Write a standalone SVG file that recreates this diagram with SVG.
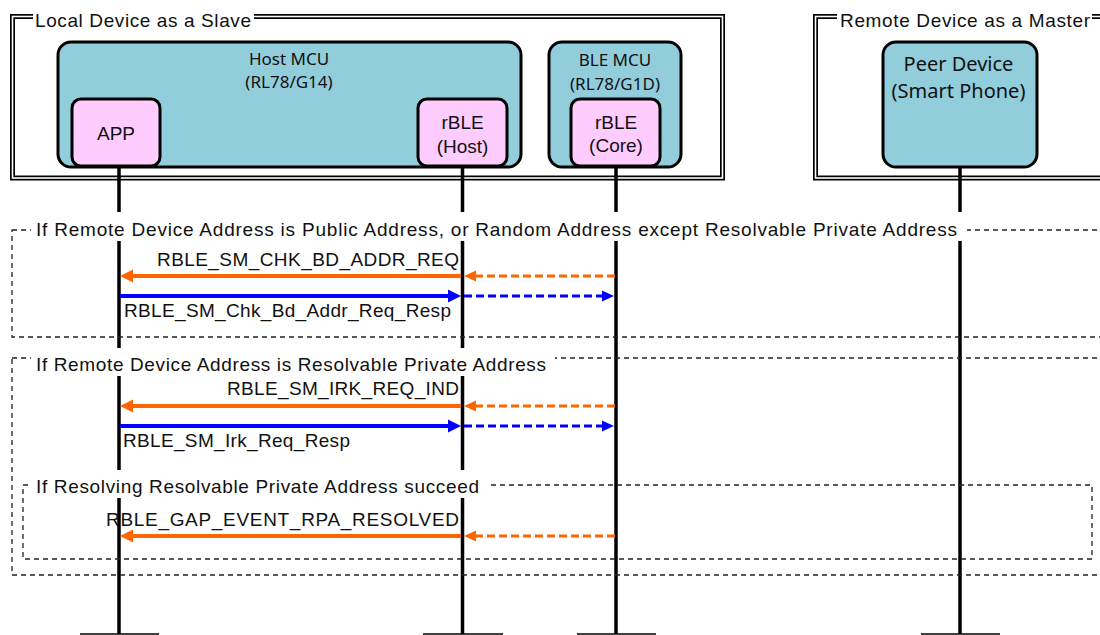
<svg xmlns="http://www.w3.org/2000/svg" width="1100" height="635" viewBox="0 0 1100 635">
<style>
.fo{fill:none;stroke:#000;stroke-width:5}
.fi{fill:none;stroke:#fff;stroke-width:1.6}
.mcu{fill:#92CDDC;stroke:#000;stroke-width:3}
.sw{fill:#FFCCFF;stroke:#000;stroke-width:3}
.life{stroke:#000;stroke-width:3.5}
.foot{stroke:#000;stroke-width:1.5}
.frag{fill:none;stroke:#222;stroke-width:1.3;stroke-dasharray:5 4}
.gap{fill:#fff}
.t{font-family:"Liberation Sans",Arial,sans-serif;font-size:19px;fill:#111}
.c{font-family:"Noto Sans","Open Sans",sans-serif;fill:#111;text-anchor:middle}
.mid{text-anchor:middle}
.or{stroke:#FF6600;stroke-width:4;fill:none;marker-end:url(#ahO)}
.ord{stroke:#FF6600;stroke-width:3;fill:none;stroke-dasharray:8 4;marker-end:url(#ahOd)}
.bl{stroke:#0000FF;stroke-width:4;fill:none;marker-end:url(#ahB)}
.bld{stroke:#0000FF;stroke-width:3;fill:none;stroke-dasharray:8 4;marker-end:url(#ahBd)}
</style>
<defs>
<marker id="ahO" markerUnits="userSpaceOnUse" markerWidth="14" markerHeight="13" refX="0" refY="6.5" orient="auto" overflow="visible"><path d="M0,0 L13,6.5 L0,13 z" fill="#FF6600"/></marker>
<marker id="ahOd" markerUnits="userSpaceOnUse" markerWidth="13" markerHeight="11" refX="0" refY="5.5" orient="auto" overflow="visible"><path d="M0,0 L12,5.5 L0,11 z" fill="#FF6600"/></marker>
<marker id="ahB" markerUnits="userSpaceOnUse" markerWidth="14" markerHeight="13" refX="0" refY="6.5" orient="auto" overflow="visible"><path d="M0,0 L13,6.5 L0,13 z" fill="#0000FF"/></marker>
<marker id="ahBd" markerUnits="userSpaceOnUse" markerWidth="13" markerHeight="11" refX="0" refY="5.5" orient="auto" overflow="visible"><path d="M0,0 L12,5.5 L0,11 z" fill="#0000FF"/></marker>
</defs>
<rect width="1100" height="635" fill="#fff"/>

<g id="local-device">
<rect class="fo" x="12.5" y="16.5" width="710" height="161.5"/>
<rect class="fi" x="12.5" y="16.5" width="710" height="161.5"/>
<rect class="gap" x="33" y="6" width="221" height="18"/>
<text class="t" x="35" y="27" textLength="216" lengthAdjust="spacing">Local Device as a Slave</text>
</g>
<g id="remote-device">
<rect class="fo" x="815.5" y="16.5" width="400" height="161.5"/>
<rect class="fi" x="815.5" y="16.5" width="400" height="161.5"/>
<rect class="gap" x="837" y="6" width="255" height="18"/>
<text class="t" x="840" y="27" textLength="250" lengthAdjust="spacing">Remote Device as a Master</text>
</g>

<g id="host-mcu">
<rect class="mcu" x="58" y="42" width="463" height="125" rx="13"/>
<text class="c" x="289" y="65" font-size="17">Host MCU</text>
<text class="c" x="289" y="88" font-size="17">(RL78/G14)</text>
</g>
<g id="ble-mcu">
<rect class="mcu" x="549" y="42" width="132" height="125" rx="13"/>
<text class="c" x="615" y="66" font-size="17">BLE MCU</text>
<text class="c" x="615" y="90" font-size="17">(RL78/G1D)</text>
</g>
<g id="app">
<rect class="sw" x="72" y="99" width="88" height="67" rx="9"/>
<text class="t mid" x="116" y="140">APP</text>
</g>
<g id="rble-host">
<rect class="sw" x="418" y="99" width="89" height="67" rx="9"/>
<text class="t mid" x="462.5" y="129">rBLE</text>
<text class="t mid" x="462.5" y="153">(Host)</text>
</g>
<g id="rble-core">
<rect class="sw" x="571" y="99" width="89" height="67" rx="9"/>
<text class="t mid" x="616" y="129">rBLE</text>
<text class="t mid" x="616" y="152">(Core)</text>
</g>
<g id="peer-device">
<rect class="mcu" x="883" y="42" width="154" height="125" rx="13"/>
<text class="c" x="958.5" y="71" font-size="20">Peer Device</text>
<text class="c" x="958.5" y="98" font-size="20">(Smart Phone)</text>
</g>

<g id="lifelines">
<line class="life" x1="119" y1="167" x2="119" y2="634"/>
<line class="life" x1="462.5" y1="167" x2="462.5" y2="634"/>
<line class="life" x1="616" y1="167" x2="616" y2="634"/>
<line class="life" x1="960" y1="167" x2="960" y2="634"/>
<line class="foot" x1="80" y1="634" x2="159" y2="634"/>
<line class="foot" x1="423" y1="634" x2="503" y2="634"/>
<line class="foot" x1="577" y1="634" x2="656" y2="634"/>
<line class="foot" x1="921" y1="634" x2="1000" y2="634"/>
</g>

<g id="fragment-public">
<rect class="frag" x="12" y="230" width="1100" height="107"/>
<rect class="gap" x="31" y="212" width="936" height="29"/>
<text class="t" x="36" y="236" textLength="921" lengthAdjust="spacing">If Remote Device Address is Public Address, or Random Address except Resolvable Private Address</text>
</g>
<g id="fragment-rpa">
<rect class="frag" x="12" y="358" width="1100" height="217"/>
<rect class="gap" x="31" y="348" width="524" height="28"/>
<text class="t" x="36" y="371" textLength="510" lengthAdjust="spacing">If Remote Device Address is Resolvable Private Address</text>
</g>
<g id="fragment-resolved">
<rect class="frag" x="23" y="485" width="1069" height="74"/>
<rect class="gap" x="31" y="470" width="456" height="28"/>
<text class="t" x="36" y="493" textLength="443" lengthAdjust="spacing">If Resolving Resolvable Private Address succeed</text>
</g>

<g id="connectors">
<path class="ord" d="M615,276 H476"/>
<path class="or" d="M461,276 H133"/>
<text class="t" x="157" y="266" textLength="302" lengthAdjust="spacing">RBLE_SM_CHK_BD_ADDR_REQ</text>
<path class="bl" d="M120,296 H448"/>
<path class="bld" d="M464,296 H602"/>
<text class="t" x="124" y="317" textLength="327" lengthAdjust="spacing">RBLE_SM_Chk_Bd_Addr_Req_Resp</text>
<path class="ord" d="M615,406 H476"/>
<path class="or" d="M461,406 H133"/>
<text class="t" x="227" y="395" textLength="232" lengthAdjust="spacing">RBLE_SM_IRK_REQ_IND</text>
<path class="bl" d="M120,426 H448"/>
<path class="bld" d="M464,426 H602"/>
<text class="t" x="123" y="447" textLength="227" lengthAdjust="spacing">RBLE_SM_Irk_Req_Resp</text>
<path class="ord" d="M615,536 H476"/>
<path class="or" d="M461,536 H133"/>
<text class="t" x="106" y="526" textLength="353" lengthAdjust="spacing">RBLE_GAP_EVENT_RPA_RESOLVED</text>
</g>
</svg>
